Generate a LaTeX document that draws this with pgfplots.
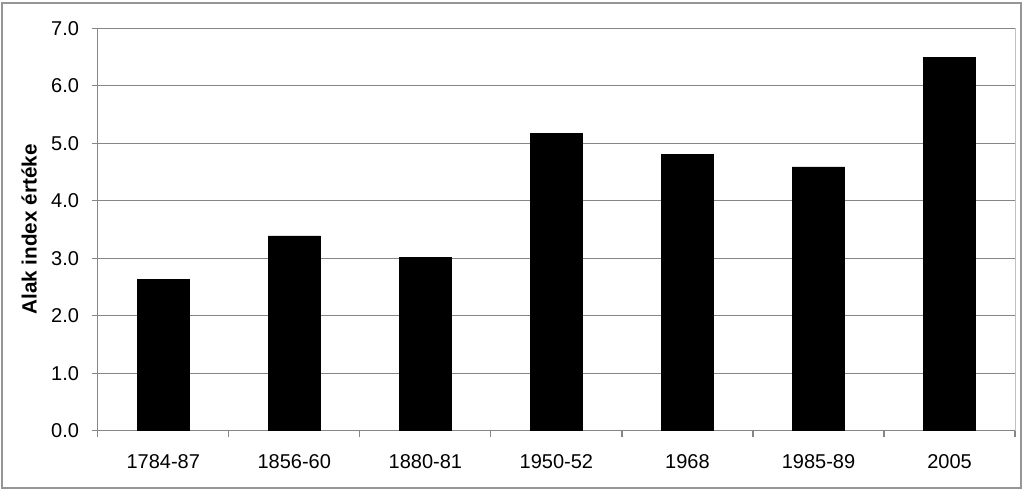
\documentclass[border=0pt]{standalone}
\usepackage{fontspec}
\setmainfont{Liberation Sans}
\usepackage{pgfplots}
\pgfplotsset{compat=1.18}
\definecolor{gridgray}{RGB}{134,134,134}
\definecolor{framegray}{RGB}{150,150,150}

\begin{document}
\begin{tikzpicture}
    \useasboundingbox (0,0) rectangle (768pt,367.5pt);
    \draw[framegray, line width=0.9pt] (1.5pt,1.5pt) rectangle (765.75pt,365.25pt);
    \begin{axis}[
        at={(73.3pt,44.5pt)}, anchor=south west,
        scale only axis,
        width=688pt, height=301.8pt,
        ybar, bar width=0.4,
        xmin=-0.5, xmax=6.5,
        ymin=0, ymax=7,
        ytick={0,1,...,7},
        xtick={-0.5,0.5,...,6.5},
        xticklabels={},
        extra x ticks={0,...,6},
        extra x tick labels={1784-87,1856-60,1880-81,1950-52,1968,1985-89,2005},
        extra x tick style={major tick length=0pt, grid=none},
        tick align=outside,
        xtick pos=bottom, ytick pos=left,
        major tick length=4.5pt,
        tick style={gridgray, line width=0.9pt},
        ymajorgrids,
        grid style={gridgray, line width=0.9pt},
        axis line style={gridgray, line width=0.9pt},
        axis x line*=bottom,
        axis y line*=left,
        yticklabel style={/pgf/number format/.cd, fixed, fixed zerofill, precision=1},
        /pgf/number format/assume math mode=true,
        ticklabel style={font=\fontsize{15}{18}\selectfont},
        xticklabel shift=14pt,
        yticklabel shift=6pt,
        ylabel={Alak index értéke},
        every axis y label/.style={at={(axis description cs:0,0.5)}, xshift=-51.5pt, rotate=90, anchor=center,
            font=\fontsize{15.5}{18}\selectfont\bfseries},
        clip=false,
    ]
        \addplot[fill=black, draw=black] coordinates {
            (0,2.63) (1,3.39) (2,3.01) (3,5.17) (4,4.81) (5,4.59) (6,6.50)
        };
        \draw[framegray!60, line width=0.7pt] (axis cs:6.5,0) -- (axis cs:6.5,7);
    \end{axis}
\end{tikzpicture}
\end{document}
